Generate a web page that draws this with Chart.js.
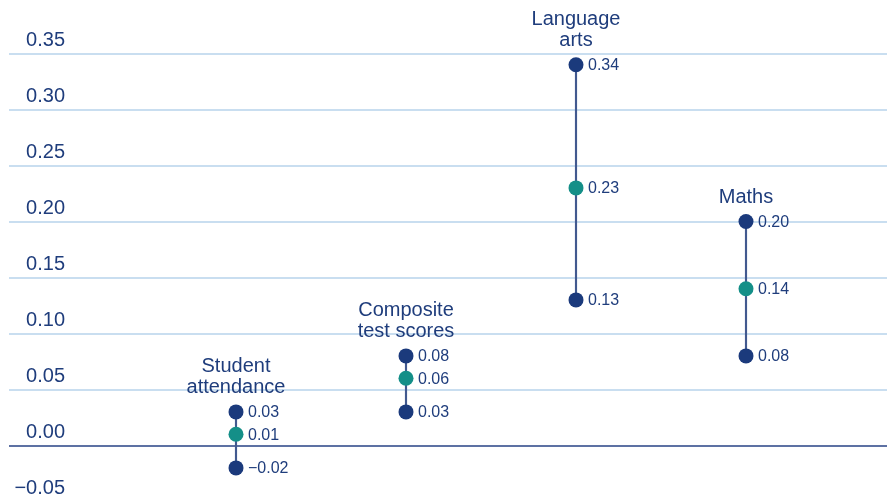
<!DOCTYPE html>
<html>
<head>
<meta charset="utf-8">
<script src="https://cdn.jsdelivr.net/npm/chart.js@4/dist/chart.umd.min.js"></script>
<style>
  html, body { margin: 0; padding: 0; background: #fff; overflow: hidden; }
  #wrap { width: 887px; height: 495px; }
  canvas { display: block; }
</style>
</head>
<body>
<div id="wrap"><canvas id="chart" width="887" height="495"></canvas></div>
<script>
const categories = [['Student', 'attendance'], ['Composite', 'test scores'], ['Language', 'arts'], ['Maths']];
const lowValues = [-0.02, 0.03, 0.13, 0.08];
const midValues = [0.01, 0.06, 0.23, 0.14];
const highValues = [0.03, 0.08, 0.34, 0.20];
const yTicks = [-0.05, 0, 0.05, 0.10, 0.15, 0.20, 0.25, 0.30, 0.35];

const navy = '#1b3a7c';
const teal = '#148f88';
const textColor = '#1f3d7c';
const fontFamily = '"Liberation Sans", Arial, sans-serif';

const fmt = (v) => (v < 0 ? '\u2212' : '') + Math.abs(v).toFixed(2);
const xs = categories.map((c, i) => i + 1);

// y labels, category names and value labels
const labelsPlugin = {
  id: 'labels',
  afterDraw(chart) {
    const ctx = chart.ctx;
    const y = chart.scales.y;
    const x = chart.scales.x;
    ctx.save();
    ctx.fillStyle = textColor;
    ctx.font = '20px ' + fontFamily;
    ctx.textAlign = 'right';
    ctx.textBaseline = 'middle';
    yTicks.forEach((t) => {
      ctx.fillText(fmt(t), 65, y.getPixelForValue(t) - 13);
    });

    ctx.textAlign = 'center';
    categories.forEach((lines, i) => {
      const px = x.getPixelForValue(xs[i]);
      const top = y.getPixelForValue(highValues[i]);
      for (let j = 0; j < lines.length; j++) {
        const py = top - 24 - (lines.length - 1 - j) * 21;
        ctx.fillText(lines[j], px, py);
      }
    });

    ctx.font = '16px ' + fontFamily;
    ctx.textAlign = 'left';
    [lowValues, midValues, highValues].forEach((arr) => {
      arr.forEach((v, i) => {
        ctx.fillText(fmt(v), x.getPixelForValue(xs[i]) + 12, y.getPixelForValue(v) + 1);
      });
    });
    ctx.restore();
  },
};

const pts = (arr) => arr.map((v, i) => ({ x: xs[i], y: v }));

new Chart(document.getElementById('chart'), {
  data: {
    datasets: [
      {
        type: 'bar',
        data: lowValues.map((v, i) => ({ x: xs[i], y: [v, highValues[i]] })),
        backgroundColor: '#42598f',
        barThickness: 1.5,
        order: 3,
      },
      {
        type: 'scatter',
        data: pts(highValues),
        backgroundColor: navy,
        borderWidth: 0,
        pointRadius: 7.5,
        order: 1,
      },
      {
        type: 'scatter',
        data: pts(midValues),
        backgroundColor: teal,
        borderWidth: 0,
        pointRadius: 7.5,
        order: 1,
      },
      {
        type: 'scatter',
        data: pts(lowValues),
        backgroundColor: navy,
        borderWidth: 0,
        pointRadius: 7.5,
        order: 1,
      },
    ],
  },
  options: {
    responsive: false,
    maintainAspectRatio: false,
    animation: false,
    layout: { autoPadding: false, padding: { left: 9, right: 0, top: 0, bottom: 0 } },
    scales: {
      x: {
        type: 'linear',
        display: false,
        offset: false,
        min: -0.3353,
        max: 4.8294,
      },
      y: {
        min: -0.0442,
        max: 0.3978,
        afterBuildTicks(scale) {
          scale.ticks = yTicks.filter((t) => t >= 0).map((t) => ({ value: t }));
        },
        ticks: { display: false },
        border: { display: false },
        grid: {
          drawTicks: false,
          lineWidth: 2,
          color: (c) => (c.tick && Math.abs(c.tick.value) < 1e-9 ? '#5d71a3' : '#c9def0'),
        },
      },
    },
    plugins: {
      legend: { display: false },
      tooltip: { enabled: false },
    },
  },
  plugins: [labelsPlugin],
});
</script>
</body>
</html>
